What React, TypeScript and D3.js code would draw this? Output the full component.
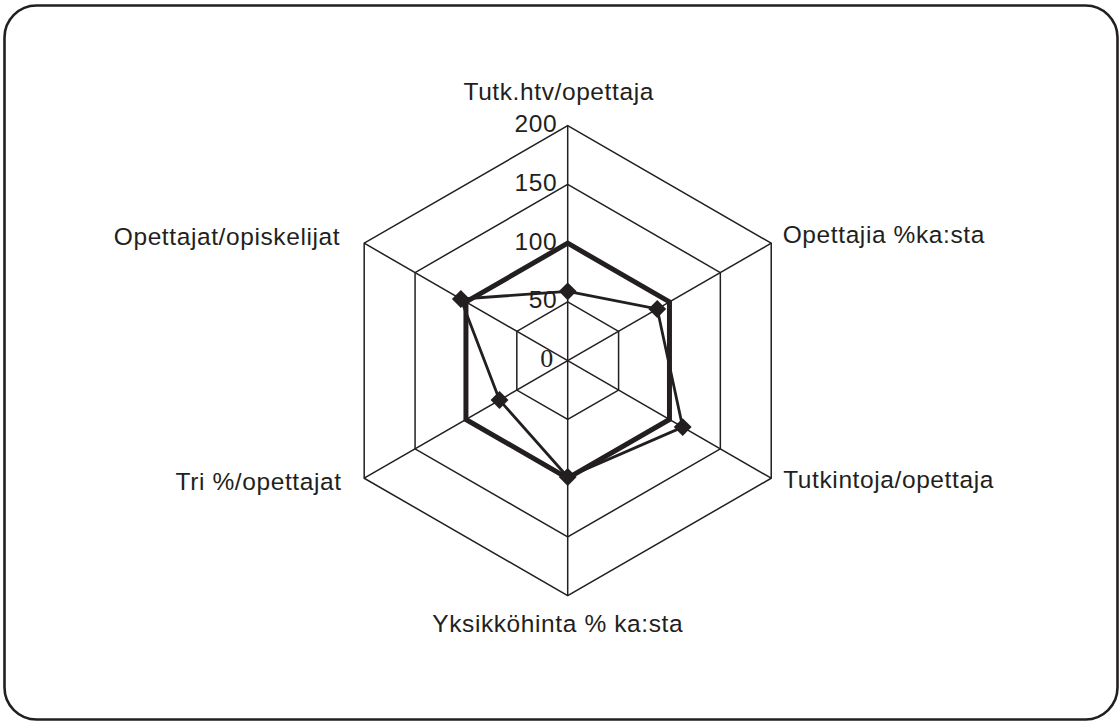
import React from "react";
import * as d3 from "d3";

const categories = [
  "Tutk.htv/opettaja",
  "Opettajia %ka:sta",
  "Tutkintoja/opettaja",
  "Yksikköhinta % ka:sta",
  "Tri %/opettajat",
  "Opettajat/opiskelijat",
];
const baselineValues = [100, 100, 100, 100, 100, 100];
const unitValues = [59, 88, 113, 99, 67, 105];
const tickValues = [0, 50, 100, 150, 200];

const W = 1120;
const H = 722;
const cx = 567.7;
const cy = 360.7;
const R = 235;
const INK = "#231f20";

// label layout: anchor, dx, dy (relative to outer vertex)
const labelLayout = [
  { anchor: "middle", dx: -9, dy: -25.5 },
  { anchor: "start", dx: 11.5, dy: 0 },
  { anchor: "start", dx: 12, dy: 10 },
  { anchor: "middle", dx: -10, dy: 36 },
  { anchor: "end", dx: -22.5, dy: 12 },
  { anchor: "end", dx: -24, dy: 2 },
];

export default function App() {
  const r = d3.scaleLinear().domain([0, 200]).range([0, R]);
  const angle = d3
    .scalePoint<number>()
    .domain(d3.range(categories.length + 1))
    .range([0, 2 * Math.PI]);
  const pt = (i: number, v: number): [number, number] => {
    const a = (angle(i) as number) - Math.PI / 2;
    return [cx + r(v) * Math.cos(a), cy + r(v) * Math.sin(a)];
  };
  const ringPath = (v: number) =>
    d3.line()(categories.map((_, i) => pt(i, v))) + "Z";
  const seriesPath = (vals: number[]) =>
    d3.line()(vals.map((v, i) => pt(i, v))) + "Z";
  const diamond = d3.symbol().type(d3.symbolSquare).size(160)();
  const font = "'Liberation Sans', Arial, Helvetica, sans-serif";

  return (
    <svg
      width={W}
      height={H}
      style={{ position: "fixed", left: 0, top: 0, background: "#fff" }}
    >
      <rect
        x={4.5}
        y={5.5}
        width={1113}
        height={714}
        rx={32}
        ry={32}
        fill="#fff"
        stroke={INK}
        strokeWidth={2.6}
      />
      {tickValues
        .filter((t) => t > 0)
        .map((t) => (
          <path key={t} d={ringPath(t)} fill="none" stroke={INK} strokeWidth={1.5} />
        ))}
      {categories.map((_, i) => {
        const [x, y] = pt(i, 200);
        return <line key={i} x1={cx} y1={cy} x2={x} y2={y} stroke={INK} strokeWidth={1.5} />;
      })}
      <path d={seriesPath(baselineValues)} fill="none" stroke={INK} strokeWidth={5} strokeLinejoin="miter" />
      <path d={seriesPath(unitValues)} fill="none" stroke={INK} strokeWidth={2.8} strokeLinejoin="miter" />
      {unitValues.map((v, i) => {
        const [x, y] = pt(i, v);
        return (
          <path key={i} d={diamond as string} transform={`translate(${x},${y}) rotate(45)`} fill={INK} />
        );
      })}
      {tickValues.map((t) => {
        const [, y] = pt(0, t);
        return (
          <text
            key={t}
            x={t === 0 ? cx - 14.5 : cx - 10.5}
            y={y + 6.5}
            textAnchor="end"
            fontFamily={t === 0 ? "'Liberation Serif', 'Times New Roman', serif" : font}
            fontSize={t === 0 ? 26 : 24.5}
            letterSpacing={t === 0 ? 0 : 0.6}
            fill={INK}
          >
            {t}
          </text>
        );
      })}
      {categories.map((c, i) => {
        const [x, y] = pt(i, 200);
        const L = labelLayout[i];
        return (
          <text
            key={c}
            x={x + L.dx}
            y={y + L.dy}
            textAnchor={L.anchor as any}
            fontFamily={font}
            fontSize={24.5}
            letterSpacing={0.6}
            fill={INK}
          >
            {c}
          </text>
        );
      })}
    </svg>
  );
}
